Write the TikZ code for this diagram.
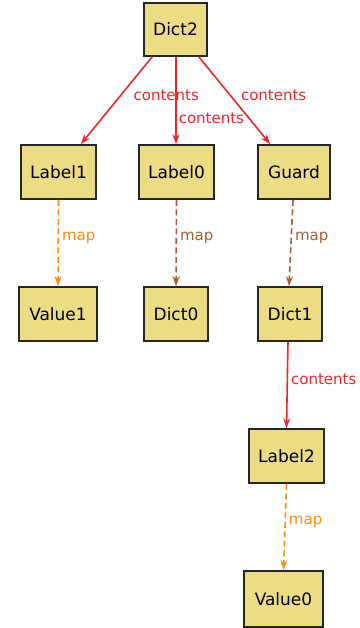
\documentclass[tikz,border=0pt]{standalone}
\usepackage{fontspec}
\setmainfont{DejaVu Sans}
\usetikzlibrary{arrows.meta,shadows}
\definecolor{boxfill}{RGB}{236,220,133}
\definecolor{cred}{RGB}{232,40,45}
\definecolor{corange}{RGB}{255,140,20}
\definecolor{cbrown}{RGB}{170,95,55}
\tikzset{
  obj/.style={draw=black!85, line width=1.6pt, fill=boxfill, minimum height=54pt,
    inner sep=0pt, font=\fontsize{17}{17}\selectfont,
    drop shadow={shadow xshift=1.2pt, shadow yshift=-1.2pt, fill=black!35, opacity=0.6}},
  elab/.style={inner sep=0pt, anchor=west, font=\fontsize{15}{15}\selectfont},
  tip/.style={-{Stealth[length=10pt,width=7pt]}},
  contents/.style={draw=cred, line width=1.6pt, tip},
  mapo/.style={draw=corange, line width=1.6pt, dash pattern=on 6pt off 3.5pt, tip},
  mapb/.style={draw=cbrown, line width=1.6pt, dash pattern=on 6pt off 3.5pt, tip},
}
\begin{document}
\begin{tikzpicture}[x=1pt,y=-1pt]
\useasboundingbox (0,0) rectangle (359,628);
\node[obj, minimum width=63pt, minimum height=53pt] (Dict2) at (175.5,29.5) {Dict2};
\node[obj, minimum width=75pt] (Label1) at (58.5,172) {Label1};
\node[obj, minimum width=75pt] (Label0) at (176.5,172) {Label0};
\node[obj, minimum width=72pt] (Guard) at (294,172) {Guard};
\node[obj, minimum width=78pt] (Value1) at (58,314) {Value1};
\node[obj, minimum width=64pt] (Dict0) at (176,314) {Dict0};
\node[obj, minimum width=64pt] (Dict1) at (290,314) {Dict1};
\node[obj, minimum width=75pt] (Label2) at (286.5,456) {Label2};
\node[obj, minimum width=79pt, minimum height=56pt] (Value0) at (283.5,599) {Value0};

\draw[contents] ([xshift=9pt]Dict2.south west) -- ([xshift=-16pt]Label1.north east)
  node[elab, text=cred, pos=0.44, xshift=12pt] {contents};
\draw[contents] ([xshift=0.5pt]Dict2.south) -- ([xshift=-0.5pt]Label0.north)
  node[elab, text=cred, pos=0.70, xshift=2pt] {contents};
\draw[contents] ([xshift=-9pt]Dict2.south east) -- ([xshift=13pt]Guard.north west)
  node[elab, text=cred, pos=0.44, xshift=10pt] {contents};
\draw[mapo] (Label1.south) -- (Value1.north)
  node[elab, text=corange, pos=0.44, xshift=3pt] {map};
\draw[mapb] (Label0.south) -- (Dict0.north)
  node[elab, text=cbrown, pos=0.44, xshift=3pt] {map};
\draw[mapb] ([xshift=-1pt]Guard.south) -- ([xshift=-1pt]Dict1.north)
  node[elab, text=cbrown, pos=0.44, xshift=3pt] {map};
\draw[contents] ([xshift=-2pt]Dict1.south) -- (Label2.north)
  node[elab, text=cred, pos=0.43, xshift=3pt] {contents};
\draw[mapo] (Label2.south) -- (Value0.north)
  node[elab, text=corange, pos=0.44, xshift=3pt] {map};
\end{tikzpicture}
\end{document}
